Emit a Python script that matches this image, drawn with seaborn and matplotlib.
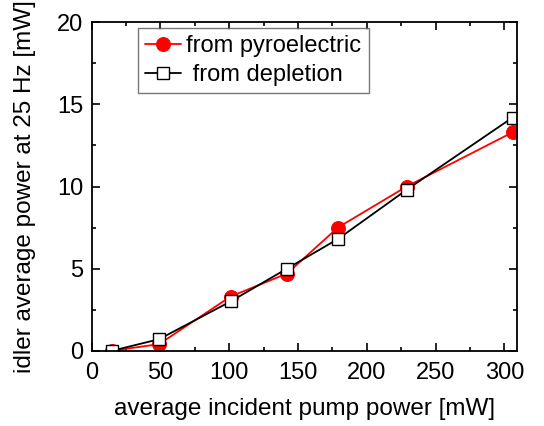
import matplotlib
matplotlib.use("Agg")
import matplotlib.pyplot as plt
import seaborn as sns
import pandas as pd
from matplotlib.ticker import MultipleLocator

pump_power = [15, 49, 101, 142, 179, 229, 306]
pyro_power = [0.0, 0.4, 3.3, 4.7, 7.5, 10.0, 13.3]
depl_power = [0.0, 0.7, 3.0, 5.0, 6.8, 9.8, 14.2]

sns.set_style("ticks")
plt.rcParams['font.family'] = ['Liberation Sans', 'DejaVu Sans']
plt.rcParams['text.color'] = 'black'
plt.rcParams['axes.labelcolor'] = 'black'
plt.rcParams['xtick.color'] = 'black'
plt.rcParams['ytick.color'] = 'black'
plt.rcParams['axes.edgecolor'] = 'black'

fig = plt.figure(figsize=(5.44, 4.26), dpi=100)
ax = fig.add_axes([91.7/544, 1-350.7/426, 425/544, 328.4/426])

df = pd.DataFrame({"x": pump_power, "pyro": pyro_power, "depl": depl_power})
sns.lineplot(data=df, x="x", y="pyro", ax=ax, color="red", marker="o", markersize=10,
             markeredgecolor="red", linewidth=1.3, label="from pyroelectric")
sns.lineplot(data=df, x="x", y="depl", ax=ax, color="black", marker="s", markersize=9,
             markerfacecolor="white", markeredgecolor="black", markeredgewidth=1.0,
             linewidth=1.3, label=" from depletion")

ax.set_xlim(0, 309)
ax.set_ylim(0, 20)
ax.xaxis.set_major_locator(MultipleLocator(50))
ax.xaxis.set_minor_locator(MultipleLocator(25))
ax.yaxis.set_major_locator(MultipleLocator(5))
ax.yaxis.set_minor_locator(MultipleLocator(2.5))
ax.tick_params(which="both", direction="in", top=True, right=True, labelsize=17, width=1.2)
ax.tick_params(axis="x", which="both", pad=8)
ax.tick_params(axis="y", which="both", pad=6)
ax.tick_params(which="major", length=6)
ax.tick_params(which="minor", length=3)
for s in ax.spines.values():
    s.set_linewidth(1.3)
ax.set_xlabel("average incident pump power [mW]", fontsize=17.5, labelpad=10)
ax.set_ylabel("idler average power at 25 Hz [mW]", fontsize=17.5, labelpad=15)

leg = ax.legend(loc="upper left", bbox_to_anchor=(0.109, 0.982), fontsize=17, frameon=True,
                fancybox=False, edgecolor="#555555", handlelength=1.5, borderpad=0.3,
                labelspacing=0.3, handletextpad=0.25, borderaxespad=0)
leg.get_frame().set_linewidth(1.0)

fig.savefig("out.png", dpi=100)
